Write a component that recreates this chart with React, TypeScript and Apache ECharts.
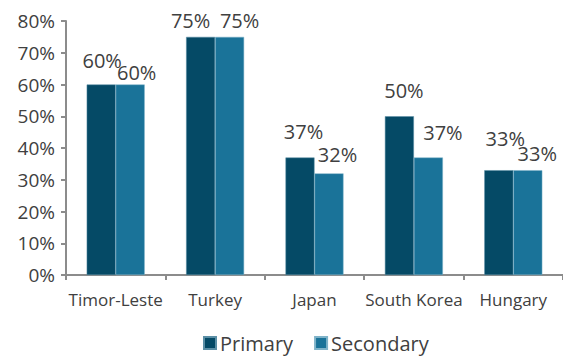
import React, { useEffect, useRef } from "react";
import * as echarts from "echarts";

const categories = ["Timor-Leste", "Turkey", "Japan", "South Korea", "Hungary"];
const primaryValues = [60, 75, 37, 50, 33];
const secondaryValues = [60, 75, 32, 37, 33];
const yTicks = [0, 10, 20, 30, 40, 50, 60, 70, 80];

// label offsets [dx, dy] mimicking the reference placement
const primaryLabelOffsets = [[1, -14], [-10, -6], [3.5, -16], [4.5, -16], [6.5, -22]];
const secondaryLabelOffsets = [[6.5, -2], [10, -6], [8.5, -9], [14.5, -15.5], [9.5, -7]];

export default function App() {
  const ref = useRef<HTMLDivElement>(null);
  useEffect(() => {
    if (!ref.current) return;
    const chart = echarts.init(ref.current, null, { renderer: "svg" });
    const font = "'Open Sans', sans-serif";
    const textColor = "#404040";
    const mk = (vals: number[], offs: number[][]) =>
      vals.map((v, i) => ({ value: v, label: { offset: offs[i] } }));
    const labelStyle = {
      show: true,
      position: "top",
      distance: 0,
      fontSize: 20,
      color: textColor,
      fontFamily: font,
      formatter: "{c}%",
    };
    chart.setOption({
      animation: false,
      textStyle: { fontFamily: font },
      grid: { left: 66, top: 21, width: 501, bottom: 81, containLabel: false },
      legend: {
        top: 332,
        left: 203,
        padding: 0,
        itemWidth: 12,
        itemHeight: 12,
        itemGap: 21,
        icon: "rect",
        textStyle: { fontSize: 20, lineHeight: 22, color: textColor, fontFamily: font, padding: [0, 0, 0, -1] },
        data: ["Primary", "Secondary"],
      },
      xAxis: {
        type: "category",
        data: categories,
        axisLine: { lineStyle: { color: "#8c8c8c", width: 2 } },
        axisTick: { show: true, length: 5, lineStyle: { color: "#8c8c8c", width: 2 } },
        axisLabel: { fontSize: 17, color: textColor, margin: 16, fontFamily: font, interval: 0 },
      },
      yAxis: {
        type: "value",
        min: 0,
        max: 80,
        interval: 10,
        splitLine: { show: false },
        axisLine: { show: true, lineStyle: { color: "#8c8c8c", width: 2 } },
        axisTick: { show: true, length: 5, lineStyle: { color: "#8c8c8c", width: 2 } },
        axisLabel: {
          fontSize: 19,
          color: textColor,
          margin: 11,
          fontFamily: font,
          formatter: (v: number) => (yTicks.includes(v) ? v + "%" : ""),
        },
      },
      series: [
        {
          name: "Primary",
          type: "bar",
          barWidth: 29,
          barGap: "0%",
          itemStyle: { color: "#054a66", borderColor: "#5b8fa6", borderWidth: 0.5 },
          label: labelStyle,
          data: mk(primaryValues, primaryLabelOffsets),
        },
        {
          name: "Secondary",
          type: "bar",
          barWidth: 29,
          barGap: "0%",
          itemStyle: { color: "#1a7399", borderColor: "#7fb3c9", borderWidth: 0.5 },
          label: labelStyle,
          data: mk(secondaryValues, secondaryLabelOffsets),
        },
      ],
    });
    return () => chart.dispose();
  }, []);
  return (
    <div
      ref={ref}
      style={{ position: "fixed", left: 0, top: 0, width: 563, height: 356, background: "#fff" }}
    />
  );
}
